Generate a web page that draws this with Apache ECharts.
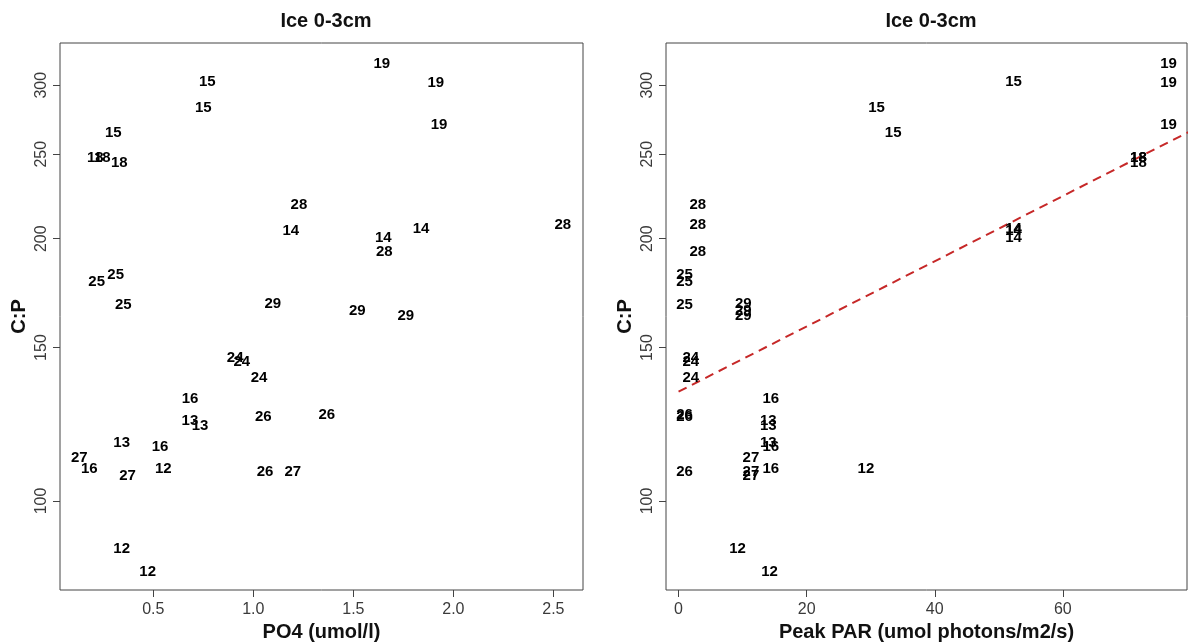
<!DOCTYPE html>
<html>
<head>
<meta charset="utf-8">
<script src="https://cdn.jsdelivr.net/npm/echarts@6/dist/echarts.min.js"></script>
<style>
  html, body { margin: 0; padding: 0; background: #ffffff; }
  #chart { width: 1192px; height: 643px; }
</style>
</head>
<body>
<div id="chart"></div>
<script>
// Ice core section 0-3 cm: C:P ratio per sample, labelled by station number
const stations = [15, 15, 15, 18, 18, 18, 19, 19, 19, 14, 14, 14, 28, 28, 28,
                  25, 25, 25, 29, 29, 29, 24, 24, 24, 16, 16, 16, 13, 13, 13,
                  26, 26, 26, 27, 27, 27, 12, 12, 12];
const po4 = [0.77, 0.75, 0.30, 0.21, 0.245, 0.33, 1.642, 1.912, 1.928, 1.187, 1.65, 1.838,
             1.228, 1.655, 2.547, 0.217, 0.312, 0.35, 1.097, 1.52, 1.762, 0.909, 0.942, 1.0285,
             0.6835, 0.5335, 0.18, 0.683, 0.7335, 0.342, 1.05, 1.367, 1.0585,
             0.13, 0.3715, 1.197, 0.55, 0.342, 0.472];
const peakPar = [52.3, 30.9, 33.5, 71.8, 71.8, 71.8, 76.5, 76.5, 76.5, 52.3, 52.3, 52.3,
                 3.0, 3.0, 3.0, 0.94, 0.94, 0.94, 10.1, 10.1, 10.1, 1.9, 1.9, 1.9,
                 14.4, 14.4, 14.4, 14.0, 14.0, 14.0, 0.94, 0.94, 0.94,
                 11.3, 11.3, 11.3, 29.25, 9.2, 14.2];
const cpRatio = [302.6, 282.8, 264.8, 247.8, 247.8, 244.3, 317.7, 301.8, 270.4, 204, 200.3, 205.4,
                 218.5, 193, 207.3, 178.4, 181.6, 167.8, 168.5, 165.2, 163.1, 146, 144.5, 138.3,
                 130.9, 115.4, 109, 123.6, 121.9, 116.6, 124.9, 125.7, 108,
                 112.1, 106.8, 108, 109, 88.1, 83];

// Tick positions
const cpTicks = [100, 150, 200, 250, 300];
const po4Ticks = [0.5, 1.0, 1.5, 2.0, 2.5];
const parTicks = [0, 20, 40, 60];

// Log-linear fit of C:P against peak PAR
const fitIntercept = 133.5;   // C:P at zero PAR
const fitSlope = 0.008616;    // change in ln(C:P) per PAR unit
const fitRange = [0, 80];

const FONT = 'Liberation Sans, Arial, Helvetica, sans-serif';
const TICK_COLOR = '#3a3a3a';
const FRAME_COLOR = '#444444';

function cpAxis(gridIndex) {
  return {
    type: 'log',
    logBase: 10,
    gridIndex: gridIndex,
    min: 79.05,
    max: 335.4,
    axisLine: { show: false, onZero: false },
    splitLine: { show: false },
    minorTick: { show: false },
    axisTick: { show: true, inside: false, length: 7, lineStyle: { color: FRAME_COLOR, width: 1 }, customValues: cpTicks },
    axisLabel: { rotate: 90, margin: 10, fontSize: 16, color: TICK_COLOR, fontFamily: FONT, customValues: cpTicks,
                 formatter: v => String(Math.round(v)) },
    name: 'C:P',
    nameLocation: 'middle',
    nameRotate: 90,
    nameGap: 31,
    nameTextStyle: { fontSize: 20, fontWeight: 'bold', color: '#111111', fontFamily: FONT }
  };
}

function xAxis(gridIndex, min, max, ticks, name, fmt) {
  return {
    type: 'value',
    gridIndex: gridIndex,
    min: min,
    max: max,
    axisLine: { show: false, onZero: false },
    splitLine: { show: false },
    axisTick: { show: true, inside: false, length: 7, lineStyle: { color: FRAME_COLOR, width: 1 }, customValues: ticks },
    axisLabel: { margin: 12, fontSize: 16, color: TICK_COLOR, fontFamily: FONT, customValues: ticks, formatter: fmt },
    name: name,
    nameLocation: 'middle',
    nameGap: 31,
    nameTextStyle: { fontSize: 20, fontWeight: 'bold', color: '#111111', fontFamily: FONT }
  };
}

function labelledPoints(xs) {
  return stations.map((s, i) => ({ value: [xs[i], cpRatio[i]], name: String(s) }));
}

const pointLabel = {
  show: true,
  position: 'inside',
  formatter: p => p.name,
  fontSize: 15,
  fontWeight: 'bold',
  color: '#000000',
  opacity: 1,
  textBorderWidth: 0,
  fontFamily: FONT
};

const fitLine = fitRange.map(x => [x, fitIntercept * Math.exp(fitSlope * x)]);

const gridBase = { top: 43, height: 547, show: true, borderColor: FRAME_COLOR, borderWidth: 1,
                   backgroundColor: 'transparent', containLabel: false, outerBoundsMode: 'none' };

const option = {
  backgroundColor: '#ffffff',
  animation: false,
  title: [
    { text: 'Ice 0-3cm', left: 321, top: 6, textAlign: 'center',
      textStyle: { fontSize: 20, fontWeight: 'bold', color: '#111111', fontFamily: FONT } },
    { text: 'Ice 0-3cm', left: 926, top: 6, textAlign: 'center',
      textStyle: { fontSize: 20, fontWeight: 'bold', color: '#111111', fontFamily: FONT } }
  ],
  grid: [
    Object.assign({ left: 60, width: 523 }, gridBase),
    Object.assign({ left: 666, width: 521 }, gridBase)
  ],
  xAxis: [
    xAxis(0, 0.0335, 2.648, po4Ticks, 'PO4 (umol/l)', v => v.toFixed(1)),
    xAxis(1, -1.96, 79.38, parTicks, 'Peak PAR (umol photons/m2/s)', v => String(v))
  ],
  yAxis: [cpAxis(0), cpAxis(1)],
  series: [
    {
      type: 'scatter', xAxisIndex: 0, yAxisIndex: 0,
      symbolSize: 1, itemStyle: { color: 'rgba(0,0,0,0)', opacity: 1 },
      label: pointLabel,
      data: labelledPoints(po4)
    },
    {
      type: 'scatter', xAxisIndex: 1, yAxisIndex: 1,
      symbolSize: 1, itemStyle: { color: 'rgba(0,0,0,0)', opacity: 1 },
      label: pointLabel,
      data: labelledPoints(peakPar)
    },
    {
      type: 'line', xAxisIndex: 1, yAxisIndex: 1,
      clip: true, symbol: 'none', z: 1,
      lineStyle: { color: '#c62828', width: 2, type: [9, 6] },
      data: fitLine
    }
  ]
};

const chart = echarts.init(document.getElementById('chart'), null, { renderer: 'canvas' });
chart.setOption(option);
</script>
</body>
</html>
